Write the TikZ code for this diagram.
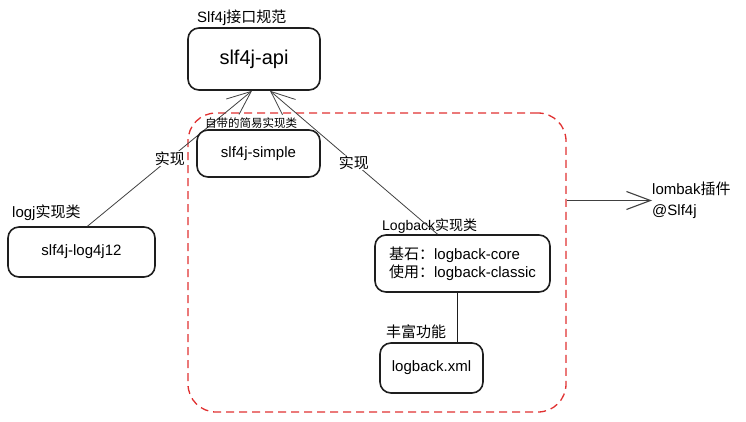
\documentclass[tikz,border=0pt]{standalone}
\usepackage{fontspec}
\setmainfont{Liberation Sans}
\newfontfamily\cjk{Noto Sans CJK SC}
\usetikzlibrary{arrows.meta}
\usetikzlibrary{positioning}
\definecolor{inkgray}{HTML}{1E1E1E}
\definecolor{framered}{HTML}{E03131}

\begin{document}
\begin{tikzpicture}[x=1pt,y=-1pt,
    box/.style={draw=inkgray, line width=1.6pt, rounded corners=11pt, fill=white, font=\fontsize{15}{18}\selectfont},
    tag/.style={anchor=west, inner sep=0pt, font=\fontsize{15}{18}\selectfont},
    impl/.style={draw=inkgray!85, line width=0.8pt, -{Straight Barb[length=24pt,width=20pt]}},
    said/.style={fill=white, inner sep=1pt, font=\fontsize{15}{18}\selectfont},
    groupframe/.style={draw=framered, line width=1.3pt, dash pattern=on 8pt off 5pt, rounded corners=28pt}]
    \useasboundingbox (0,0) rectangle (746,422);
    \node[groupframe, minimum width=378pt, minimum height=299pt] (grp) at (377,262.5) {};
    \node[box, minimum width=132pt, minimum height=62pt, font=\fontsize{20}{24}\selectfont] (api) at (254,59) {slf4j-api};
    \node[tag] (apitag) at (197,18) {Slf4j{\cjk 接口规范}};
    \node[box, minimum width=147pt, minimum height=50pt] (log4j) at (81.5,252) {slf4j-log4j12};
    \node[tag] (log4jtag) at (12,213) {logj{\cjk 实现类}};
    \node[box, minimum width=175pt, minimum height=57pt, align=left] (logback) at (462.5,263.5) {{\cjk 基石：}logback-core\\{\cjk 使用：}logback-classic};
    \node[tag, font=\fontsize{14}{17}\selectfont] (logbacktag) at (382,226) {Logback{\cjk 实现类}};
    \node[box, minimum width=103pt, minimum height=50pt] (xml) at (431.5,368) {logback.xml};
    \node[tag] (xmltag) at (386,332) {\cjk 丰富功能};
    \node[tag, align=left, font=\fontsize{15}{21}\selectfont] (lombak) at (652,200.5) {lombak{\cjk 插件}\\@Slf4j};
    \draw[impl] ([xshift=6pt]log4j.north) -- node[said] {\cjk 实现} ([xshift=-2pt]api.south);
    \draw[impl] ([xshift=-25pt]logback.north) -- node[said] {\cjk 实现} ([xshift=16pt]api.south);
    \node[box, minimum width=123pt, minimum height=47pt] (simple) at (258.5,153.5) {slf4j-simple};
    \node[tag, font=\fontsize{11.5}{14}\selectfont] (simpletag) at (205,123) {\cjk 自带的简易实现类};
    \draw[inkgray, line width=0.8pt] ([xshift=-5.5pt]logback.south) -- ([xshift=-5.5pt]logback.south |- xml.north);
    \draw[impl, line width=1.1pt, -{Straight Barb[length=24pt,width=18pt]}] (grp.east |- lombak.west) -- (lombak.west);
\end{tikzpicture}
\end{document}
